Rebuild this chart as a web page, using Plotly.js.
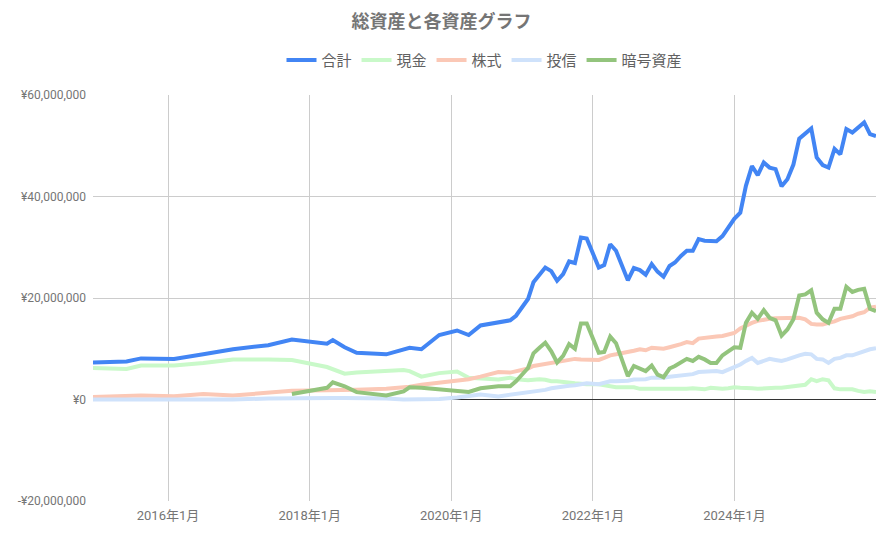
<!DOCTYPE html>
<html>
<head>
<meta charset="utf-8">
<script src="https://cdn.plot.ly/plotly-3.0.1.min.js"></script>
<style>
  html, body { margin: 0; padding: 0; background: #fff; }
  #chart { width: 883px; height: 533px; }
</style>
</head>
<body>
<div id="chart"></div>
<script>
// dates of each record (early ones are irregular, later monthly)
const dates = [
  "2014-12-10", "2015-06-01", "2015-08-15", "2016-02-01", "2016-07-01", "2016-12-01",
  "2017-06-01", "2017-10-01", "2018-03-31", "2018-04-30", "2018-06-30", "2018-08-31",
  "2019-01-31", "2019-04-30", "2019-05-31", "2019-07-31", "2019-10-31",
  "2020-01-31", "2020-03-31", "2020-05-31", "2020-08-31", "2020-10-31", "2020-11-30",
  "2021-01-31", "2021-02-28", "2021-03-31", "2021-04-30", "2021-05-31", "2021-06-30",
  "2021-07-31", "2021-08-31", "2021-09-30", "2021-10-31", "2021-11-30",
  "2022-01-31", "2022-02-28", "2022-03-31", "2022-04-30", "2022-05-31", "2022-06-30",
  "2022-07-31", "2022-08-31", "2022-09-30", "2022-10-31", "2022-11-30", "2022-12-31",
  "2023-01-31", "2023-02-28", "2023-03-31", "2023-04-30", "2023-05-31", "2023-06-30",
  "2023-07-31", "2023-08-31", "2023-09-30", "2023-10-31", "2023-11-30", "2023-12-31",
  "2024-01-31", "2024-02-29", "2024-03-31", "2024-04-30", "2024-05-31", "2024-06-30",
  "2024-07-31", "2024-08-31", "2024-09-30", "2024-10-31", "2024-11-30", "2024-12-31",
  "2025-01-31", "2025-02-28", "2025-03-31", "2025-04-30", "2025-05-31", "2025-06-30",
  "2025-07-31", "2025-08-31", "2025-09-30", "2025-10-31", "2025-11-30", "2025-12-31"
];

// values in millions of yen
const total_m = [
  7.3, 7.5, 8.1, 8.0, 8.9, 9.9, 10.7, 11.8, 11.0, 11.7, 10.3, 9.2,
  8.9, 9.8, 10.2, 9.9, 12.7,
  13.6, 12.7, 14.6, 15.2, 15.6, 16.5,
  19.8, 23.1, 24.6, 26.0, 25.3, 23.4, 24.7, 27.2, 26.9, 31.9, 31.7,
  26.0, 26.5, 30.6, 29.3, 26.5, 23.5, 25.9, 25.5, 24.6, 26.7, 25.2, 24.2,
  26.3, 27.0, 28.3, 29.3, 29.3, 31.6, 31.3, 31.2, 31.2, 32.2, 34.0, 35.6,
  36.8, 42.1, 46.0, 44.2, 46.7, 45.7, 45.4, 42.0, 43.4, 46.3, 51.4, 52.3,
  53.4, 47.7, 46.2, 45.7, 49.4, 48.3, 53.3, 52.6, 53.6, 54.6, 52.3, 51.9
];
const cash_m = [
  6.2, 6.0, 6.7, 6.7, 7.2, 7.9, 7.9, 7.8, 6.4, 6.0, 5.1, 5.3,
  5.5, 5.8, 5.6, 4.5, 5.2,
  5.5, 4.3, 4.2, 3.95, 4.3, 4.0,
  3.8, 3.9, 4.0, 3.9, 3.6, 3.6, 3.4, 3.3, 3.2, 3.1, 3.0,
  3.0, 2.8, 2.6, 2.4, 2.4, 2.4, 2.4, 2.1, 2.1, 2.1, 2.1, 2.1,
  2.1, 2.1, 2.0, 2.1, 2.2, 2.1, 2.0, 2.3, 2.2, 2.1, 2.2, 2.4,
  2.3, 2.3, 2.2, 2.1, 2.2, 2.3, 2.3, 2.3, 2.4, 2.5, 2.6, 2.9,
  4.0, 3.6, 4.0, 3.8, 2.2, 2.0, 2.0, 2.0, 1.7, 1.5, 1.6, 1.5
];
const stock_m = [
  0.5, 0.7, 0.8, 0.65, 1.1, 0.8, 1.3, 1.7, 1.8, 1.8, 1.8, 1.9,
  2.1, 2.3, 2.5, 2.9, 3.3,
  3.6, 4.0, 4.5, 5.4, 5.3, 5.6,
  6.1, 6.6, 6.8, 7.0, 7.2, 7.4, 7.6, 7.8, 8.0, 7.9, 7.9,
  7.8, 8.2, 8.7, 8.9, 9.1, 9.35, 9.6, 9.9, 9.7, 10.2, 10.1, 10.0,
  10.3, 10.5, 10.9, 11.3, 11.1, 12.0, 12.2, 12.4, 12.4, 12.5, 12.8, 13.1,
  14.0, 14.6, 15.1, 15.5, 15.8, 15.9, 16.0, 16.0, 16.1, 16.1, 16.1, 15.8,
  14.9, 14.8, 14.8, 15.1, 15.4, 15.9, 16.2, 16.4, 16.9, 17.2, 18.1, 18.3
];
const fund_m = [
  0, 0, 0, 0, 0, 0, 0.2, 0.3, 0.3, 0.3, 0.3, 0.3,
  0.2, 0.0, 0.0, 0.0, 0.1,
  0.4, 0.7, 1.0, 0.6, 0.9, 1.0,
  1.3, 1.5, 1.6, 1.9, 2.2, 2.3, 2.5, 2.7, 2.8, 3.0, 3.2,
  3.0, 3.3, 3.6, 3.6, 3.6, 3.7, 3.95, 3.95, 4.0, 4.3, 4.3, 4.3,
  4.5, 4.6, 4.7, 4.8, 5.0, 5.4, 5.5, 5.6, 5.6, 5.4, 5.9, 6.4,
  6.9, 7.6, 8.2, 7.2, 7.6, 8.0, 7.8, 7.6, 7.9, 8.4, 8.7, 9.0,
  8.9, 8.0, 7.9, 7.2, 8.0, 8.2, 8.7, 8.7, 9.1, 9.5, 9.9, 10.1
];
const crypto_m = [
  null, null, null, null, null, null, null, 1.1, 2.3, 3.4, 2.6, 1.45,
  0.8, 1.6, 2.4, 2.3, 2.0,
  1.8, 1.5, 2.2, 2.6, 2.6, 3.6,
  6.2, 9.1, 10.2, 11.2, 9.5, 7.3, 8.6, 10.9, 10.0, 15.0, 15.0,
  9.2, 9.35, 12.4, 11.1, 7.7, 4.6, 6.6, 6.1, 5.6, 6.7, 4.9, 4.4,
  6.1, 6.6, 7.4, 8.0, 7.6, 8.4, 7.9, 7.2, 7.2, 8.7, 9.5, 10.3,
  10.2, 15.1, 17.1, 15.9, 17.6, 16.1, 15.6, 12.6, 13.8, 15.8, 20.5, 20.7,
  21.5, 17.1, 15.8, 15.1, 17.9, 17.9, 22.2, 21.2, 21.6, 21.8, 17.9, 17.4
];

const series_names = ["合計", "現金", "株式", "投信", "暗号資産"];

const y_tickvals = [-20000000, 0, 20000000, 40000000, 60000000];
const y_ticktext = ["-¥20,000,000", "¥0", "¥20,000,000", "¥40,000,000", "¥60,000,000"];
const x_tickvals = ["2016-01-01", "2018-01-01", "2020-01-01", "2022-01-01", "2024-01-01"];
const x_ticktext = ["2016年1月", "2018年1月", "2020年1月", "2022年1月", "2024年1月"];

function get_color(name) {
    const colors = {
        "合計"     : "#4285f4",
        "現金"     : "#c9f9c9",
        "株式"     : "#fbc8b6",
        "投信"     : "#cfe2fb",
        "暗号資産" : "#93c47d"
    };
    return colors[name];
}

function yen(list) {
    return list.map(v => v === null ? null : v * 1000000);
}

const values = [total_m, cash_m, stock_m, fund_m, crypto_m];
const traces = series_names.map((name, i) => ({
    x: dates,
    y: yen(values[i]),
    name: name,
    type: 'scatter',
    mode: 'lines',
    connectgaps: false,
    line: { color: get_color(name), width: 4 }
}));

const font_family = 'Roboto, "Noto Sans CJK JP", sans-serif';

Plotly.newPlot('chart', traces, {
    width: 883,
    height: 533,
    paper_bgcolor: '#ffffff',
    plot_bgcolor: '#ffffff',
    margin: { l: 93, r: 7, t: 95, b: 32 },
    font: { family: font_family, color: '#757575' },
    title: {
        text: '総資産と各資産グラフ',
        font: { family: font_family, size: 18, color: '#757575', weight: 'bold' },
        x: 0.5, xanchor: 'center',
        yref: 'container', y: 0.96, yanchor: 'middle'
    },
    showlegend: true,
    legend: {
        orientation: 'h',
        x: 0.5, xanchor: 'center',
        yref: 'container', y: 0.887, yanchor: 'middle',
        font: { family: font_family, size: 15, color: '#616161' },
        itemwidth: 30
    },
    xaxis: {
        type: 'date',
        range: [dates[0], dates[dates.length - 1]],
        tickvals: x_tickvals,
        ticktext: x_ticktext,
        tickfont: { size: 13, color: '#757575' },
        ticklabelstandoff: 5,
        showgrid: true,
        gridcolor: '#cccccc',
        gridwidth: 1,
        zeroline: false,
        showline: false,
        ticks: ''
    },
    yaxis: {
        range: [-20000000, 60000000],
        tickvals: y_tickvals,
        ticktext: y_ticktext,
        tickfont: { size: 12, color: '#757575' },
        ticklabelstandoff: 6,
        showgrid: true,
        gridcolor: '#cccccc',
        gridwidth: 1,
        zeroline: true,
        zerolinecolor: '#333333',
        zerolinewidth: 1,
        showline: false,
        ticks: ''
    },
    hovermode: false
}, { displayModeBar: false, staticPlot: true });
</script>
</body>
</html>
